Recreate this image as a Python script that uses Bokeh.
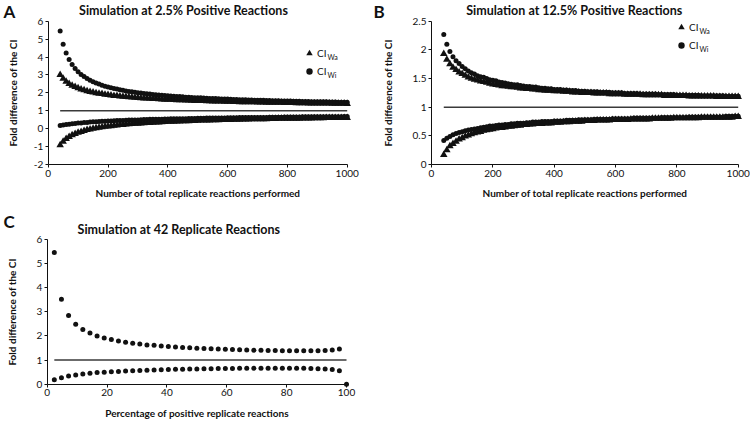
from bokeh.plotting import figure
from bokeh.models import (Range1d, FixedTicker, CustomJSTickFormatter, Label,
                          Legend, LegendItem)
from bokeh.layouts import column, row
from bokeh.embed import file_html
from bokeh.resources import INLINE

# ---------------- data ----------------
n_total = [40, 50, 60, 70, 80, 90, 100, 110, 120, 130, 140, 150, 160, 170, 180, 190, 200,
           210, 220, 230, 240, 250, 260, 270, 280, 290, 300,
           310, 320, 330, 340, 350, 360, 370, 380, 390, 400,
           410, 420, 430, 440, 450, 460, 470, 480, 490, 500,
           510, 520, 530, 540, 550, 560, 570, 580, 590, 600,
           610, 620, 630, 640, 650, 660, 670, 680, 690, 700,
           710, 720, 730, 740, 750, 760, 770, 780, 790, 800,
           810, 820, 830, 840, 850, 860, 870, 880, 890, 900,
           910, 920, 930, 940, 950, 960, 970, 980, 990, 1000]

# Panel A: 2.5 % positive reactions
a_wa_upper = [3.01, 2.79, 2.63, 2.51, 2.41, 2.33, 2.26, 2.20, 2.15, 2.10, 2.06, 2.03, 1.99, 1.96, 1.94, 1.91, 1.89,
              1.86, 1.84, 1.83, 1.81, 1.79, 1.78, 1.76, 1.75, 1.74, 1.72,
              1.71, 1.70, 1.69, 1.68, 1.67, 1.66, 1.65, 1.64, 1.63, 1.63,
              1.62, 1.61, 1.60, 1.60, 1.59, 1.58, 1.58, 1.57, 1.56, 1.56,
              1.55, 1.55, 1.54, 1.54, 1.53, 1.53, 1.52, 1.52, 1.51, 1.51,
              1.51, 1.50, 1.50, 1.49, 1.49, 1.49, 1.48, 1.48, 1.48, 1.47,
              1.47, 1.47, 1.46, 1.46, 1.46, 1.45, 1.45, 1.45, 1.44, 1.44,
              1.44, 1.44, 1.43, 1.43, 1.43, 1.43, 1.42, 1.42, 1.42, 1.42,
              1.41, 1.41, 1.41, 1.41, 1.40, 1.40, 1.40, 1.40, 1.40, 1.39]
a_wa_lower = [-0.91, -0.72, -0.57, -0.45, -0.36, -0.29, -0.22, -0.17, -0.12, -0.07, -0.03, 0.00, 0.03, 0.06, 0.09, 0.11, 0.13,
              0.15, 0.17, 0.19, 0.21, 0.22, 0.24, 0.25, 0.27, 0.28, 0.29,
              0.30, 0.31, 0.32, 0.33, 0.34, 0.35, 0.36, 0.37, 0.38, 0.39,
              0.39, 0.40, 0.41, 0.41, 0.42, 0.43, 0.43, 0.44, 0.44, 0.45,
              0.46, 0.46, 0.47, 0.47, 0.48, 0.48, 0.48, 0.49, 0.49, 0.50,
              0.50, 0.51, 0.51, 0.51, 0.52, 0.52, 0.52, 0.53, 0.53, 0.53,
              0.54, 0.54, 0.54, 0.55, 0.55, 0.55, 0.56, 0.56, 0.56, 0.56,
              0.57, 0.57, 0.57, 0.57, 0.58, 0.58, 0.58, 0.58, 0.59, 0.59,
              0.59, 0.59, 0.60, 0.60, 0.60, 0.60, 0.60, 0.61, 0.61, 0.61]
a_wi_upper = [5.45, 4.72, 4.22, 3.86, 3.58, 3.36, 3.18, 3.03, 2.91, 2.80, 2.70, 2.62, 2.55, 2.49, 2.43, 2.37, 2.33,
              2.28, 2.24, 2.21, 2.17, 2.14, 2.11, 2.08, 2.06, 2.03, 2.01,
              1.99, 1.97, 1.95, 1.93, 1.91, 1.89, 1.88, 1.86, 1.85, 1.84,
              1.82, 1.81, 1.80, 1.79, 1.78, 1.76, 1.75, 1.74, 1.73, 1.73,
              1.72, 1.71, 1.70, 1.69, 1.68, 1.68, 1.67, 1.66, 1.65, 1.65,
              1.64, 1.63, 1.63, 1.62, 1.62, 1.61, 1.60, 1.60, 1.59, 1.59,
              1.58, 1.58, 1.57, 1.57, 1.56, 1.56, 1.56, 1.55, 1.55, 1.54,
              1.54, 1.53, 1.53, 1.53, 1.52, 1.52, 1.52, 1.51, 1.51, 1.51,
              1.50, 1.50, 1.50, 1.49, 1.49, 1.49, 1.48, 1.48, 1.48, 1.47]
a_wi_lower = [0.18, 0.20, 0.23, 0.25, 0.27, 0.29, 0.31, 0.32, 0.34, 0.35, 0.37, 0.38, 0.39, 0.40, 0.41, 0.42, 0.43,
              0.43, 0.44, 0.45, 0.46, 0.46, 0.47, 0.48, 0.48, 0.49, 0.49,
              0.50, 0.51, 0.51, 0.52, 0.52, 0.53, 0.53, 0.53, 0.54, 0.54,
              0.55, 0.55, 0.55, 0.56, 0.56, 0.56, 0.57, 0.57, 0.57, 0.58,
              0.58, 0.58, 0.59, 0.59, 0.59, 0.60, 0.60, 0.60, 0.60, 0.61,
              0.61, 0.61, 0.61, 0.62, 0.62, 0.62, 0.62, 0.62, 0.63, 0.63,
              0.63, 0.63, 0.63, 0.64, 0.64, 0.64, 0.64, 0.64, 0.65, 0.65,
              0.65, 0.65, 0.65, 0.65, 0.66, 0.66, 0.66, 0.66, 0.66, 0.66,
              0.66, 0.67, 0.67, 0.67, 0.67, 0.67, 0.67, 0.67, 0.68, 0.68]

# Panel B: 12.5 % positive reactions
b_wa_upper = [1.93, 1.83, 1.75, 1.69, 1.65, 1.61, 1.58, 1.55, 1.52, 1.50, 1.48, 1.47, 1.45, 1.44, 1.43, 1.41, 1.40,
              1.39, 1.38, 1.37, 1.37, 1.36, 1.35, 1.35, 1.34, 1.33, 1.33,
              1.32, 1.32, 1.31, 1.31, 1.30, 1.30, 1.29, 1.29, 1.29, 1.28,
              1.28, 1.28, 1.27, 1.27, 1.27, 1.26, 1.26, 1.26, 1.25, 1.25,
              1.25, 1.25, 1.24, 1.24, 1.24, 1.24, 1.24, 1.23, 1.23, 1.23,
              1.23, 1.23, 1.22, 1.22, 1.22, 1.22, 1.22, 1.22, 1.21, 1.21,
              1.21, 1.21, 1.21, 1.21, 1.21, 1.20, 1.20, 1.20, 1.20, 1.20,
              1.20, 1.20, 1.20, 1.19, 1.19, 1.19, 1.19, 1.19, 1.19, 1.19,
              1.19, 1.19, 1.18, 1.18, 1.18, 1.18, 1.18, 1.18, 1.18, 1.18]
b_wa_lower = [0.17, 0.25, 0.32, 0.36, 0.40, 0.44, 0.46, 0.49, 0.51, 0.53, 0.55, 0.56, 0.57, 0.59, 0.60, 0.61, 0.62,
              0.63, 0.64, 0.64, 0.65, 0.66, 0.66, 0.67, 0.68, 0.68, 0.69,
              0.69, 0.70, 0.70, 0.71, 0.71, 0.71, 0.72, 0.72, 0.72, 0.73,
              0.73, 0.73, 0.74, 0.74, 0.74, 0.75, 0.75, 0.75, 0.75, 0.76,
              0.76, 0.76, 0.76, 0.77, 0.77, 0.77, 0.77, 0.77, 0.78, 0.78,
              0.78, 0.78, 0.78, 0.78, 0.79, 0.79, 0.79, 0.79, 0.79, 0.79,
              0.79, 0.80, 0.80, 0.80, 0.80, 0.80, 0.80, 0.80, 0.81, 0.81,
              0.81, 0.81, 0.81, 0.81, 0.81, 0.81, 0.81, 0.82, 0.82, 0.82,
              0.82, 0.82, 0.82, 0.82, 0.82, 0.82, 0.82, 0.82, 0.83, 0.83]
b_wi_upper = [2.27, 2.10, 1.97, 1.88, 1.81, 1.76, 1.71, 1.67, 1.63, 1.60, 1.58, 1.55, 1.53, 1.52, 1.50, 1.48, 1.47,
              1.46, 1.44, 1.43, 1.42, 1.41, 1.40, 1.39, 1.39, 1.38, 1.37,
              1.36, 1.36, 1.35, 1.35, 1.34, 1.33, 1.33, 1.32, 1.32, 1.31,
              1.31, 1.31, 1.30, 1.30, 1.29, 1.29, 1.29, 1.28, 1.28, 1.28,
              1.27, 1.27, 1.27, 1.27, 1.26, 1.26, 1.26, 1.26, 1.25, 1.25,
              1.25, 1.25, 1.24, 1.24, 1.24, 1.24, 1.24, 1.23, 1.23, 1.23,
              1.23, 1.23, 1.23, 1.22, 1.22, 1.22, 1.22, 1.22, 1.22, 1.21,
              1.21, 1.21, 1.21, 1.21, 1.21, 1.21, 1.21, 1.20, 1.20, 1.20,
              1.20, 1.20, 1.20, 1.20, 1.20, 1.19, 1.19, 1.19, 1.19, 1.19]
b_wi_lower = [0.42, 0.46, 0.49, 0.52, 0.54, 0.56, 0.57, 0.59, 0.60, 0.61, 0.62, 0.63, 0.64, 0.65, 0.66, 0.67, 0.67,
              0.68, 0.69, 0.69, 0.70, 0.70, 0.71, 0.71, 0.72, 0.72, 0.72,
              0.73, 0.73, 0.74, 0.74, 0.74, 0.75, 0.75, 0.75, 0.75, 0.76,
              0.76, 0.76, 0.76, 0.77, 0.77, 0.77, 0.77, 0.78, 0.78, 0.78,
              0.78, 0.78, 0.79, 0.79, 0.79, 0.79, 0.79, 0.79, 0.80, 0.80,
              0.80, 0.80, 0.80, 0.80, 0.80, 0.81, 0.81, 0.81, 0.81, 0.81,
              0.81, 0.81, 0.81, 0.81, 0.82, 0.82, 0.82, 0.82, 0.82, 0.82,
              0.82, 0.82, 0.82, 0.83, 0.83, 0.83, 0.83, 0.83, 0.83, 0.83,
              0.83, 0.83, 0.83, 0.83, 0.83, 0.84, 0.84, 0.84, 0.84, 0.84]

# Panel C: 42 replicate reactions
c_pct = [2.38, 4.76, 7.14, 9.52, 11.90, 14.29, 16.67, 19.05, 21.43, 23.81,
         26.19, 28.57, 30.95, 33.33, 35.71, 38.10, 40.48, 42.86, 45.24, 47.62,
         50.00, 52.38, 54.76, 57.14, 59.52, 61.90, 64.29, 66.67, 69.05, 71.43,
         73.81, 76.19, 78.57, 80.95, 83.33, 85.71, 88.10, 90.48, 92.86, 95.24, 97.62]
c_upper = [5.46, 3.52, 2.85, 2.49, 2.27, 2.12, 2.00, 1.92, 1.85, 1.79,
           1.74, 1.70, 1.67, 1.63, 1.61, 1.58, 1.56, 1.54, 1.52, 1.51,
           1.49, 1.48, 1.47, 1.46, 1.45, 1.44, 1.43, 1.42, 1.41, 1.41,
           1.40, 1.40, 1.39, 1.39, 1.39, 1.39, 1.39, 1.39, 1.40, 1.42, 1.46]
c_lower_pct = c_pct + [100.0]
c_lower = [0.18, 0.27, 0.34, 0.38, 0.42, 0.45, 0.48, 0.50, 0.52, 0.53,
           0.55, 0.56, 0.57, 0.58, 0.59, 0.60, 0.61, 0.62, 0.62, 0.63,
           0.63, 0.64, 0.64, 0.65, 0.65, 0.65, 0.66, 0.66, 0.66, 0.66,
           0.66, 0.66, 0.66, 0.66, 0.66, 0.66, 0.65, 0.64, 0.63, 0.61, 0.56, 0.00]

reference_fold = 1.0

ticks_n = [0, 200, 400, 600, 800, 1000]
ticks_pct = [0, 20, 40, 60, 80, 100]
ticks_a = [-2, -1, 0, 1, 2, 3, 4, 5, 6]
ticks_b = [0, 0.5, 1, 1.5, 2, 2.5]
ticks_c = [0, 1, 2, 3, 4, 5, 6]

FONT = "Lato"
INK = "#111111"
TRI = 7.5
DOT = 5


def make_fig(cw, ch, frame, xb, yb, xt, yt, xlabel, ylabel, ylab_standoff):
    """frame = (left, right, top, bottom) pixel edges of the plotting area inside the canvas."""
    fl, fr, ft, fb = frame
    sx = (xb[1] - xb[0]) / (fr - fl)
    sy = (yb[1] - yb[0]) / (fb - ft)
    xr = Range1d(xb[0] - fl * sx, xb[1] + (cw - fr) * sx)
    yr = Range1d(yb[0] - (ch - fb) * sy, yb[1] + ft * sy)
    p = figure(width=cw, height=ch, output_backend="svg", toolbar_location=None,
               x_range=xr, y_range=yr, min_border=0)
    p.title.visible = False
    p.outline_line_color = None
    p.grid.visible = False
    p.background_fill_color = "white"
    p.border_fill_color = "white"
    p.xaxis.ticker = FixedTicker(ticks=xt)
    p.yaxis.ticker = FixedTicker(ticks=yt)
    p.xaxis.fixed_location = yb[0]
    p.yaxis.fixed_location = xb[0]
    p.xaxis.bounds = xb
    p.yaxis.bounds = yb
    for ax in (p.xaxis[0], p.yaxis[0]):
        ax.formatter = CustomJSTickFormatter(code="return String(tick);")
        ax.axis_line_color = INK
        ax.axis_line_width = 1
        ax.major_tick_line_color = INK
        ax.major_tick_out = 3
        ax.major_tick_in = 0
        ax.minor_tick_line_color = None
        ax.major_label_text_font = FONT
        ax.major_label_text_font_size = "10px"
        ax.major_label_text_color = INK
        ax.major_label_standoff = 2
        ax.axis_label_text_font = FONT
        ax.axis_label_text_font_size = "10px"
        ax.axis_label_text_font_style = "bold"
        ax.axis_label_text_color = INK
    p.xaxis.axis_label = xlabel
    p.yaxis.axis_label = ylabel
    p.xaxis.axis_label_standoff = 7
    p.yaxis.axis_label_standoff = ylab_standoff
    return p


def add_text(p, x, y, text, size, bold=True, align="center"):
    p.add_layout(Label(x=x, y=y, x_units="screen", y_units="screen", text=text,
                       text_font=FONT, text_font_size=size,
                       text_font_style="bold" if bold else "normal",
                       text_align=align, text_baseline="middle", text_color=INK))


def add_legend(p, r_tri, r_circ, x, y, spacing):
    leg = Legend(items=[LegendItem(label="CI", renderers=[r_tri]),
                        LegendItem(label="CI", renderers=[r_circ])],
                 location=(x, y), orientation="vertical", padding=0, margin=0,
                 spacing=spacing, glyph_width=16, glyph_height=16, label_height=16,
                 label_standoff=0, label_text_font=FONT, label_text_font_size="10px",
                 label_text_color=INK, background_fill_alpha=0, border_line_color=None)
    p.add_layout(leg)
    box_h = 32 + spacing
    add_text(p, x + 26, y + box_h - 8 - 3, "Wa", "7px", bold=False, align="left")
    add_text(p, x + 26, y + 8 - 3, "Wi", "7px", bold=False, align="left")


def add_points(p, xs, ys, marker, size):
    return p.scatter(xs, ys, marker=marker, size=size, fill_color=INK, line_color=None)


xlab_n = "Number of total replicate reactions performed"
ylab = "Fold difference of the CI"

# ---------------- panel A ----------------
pa = make_fig(370, 208, (47.7, 346.7, 20.7, 164), (0, 1000), (-2, 6), ticks_n, ticks_a,
              xlab_n, ylab, 12)
ra1 = add_points(pa, n_total, a_wa_upper, "triangle", TRI)
add_points(pa, n_total, a_wa_lower, "triangle", TRI)
ra2 = add_points(pa, n_total, a_wi_upper, "circle", DOT)
add_points(pa, n_total, a_wi_lower, "circle", DOT)
pa.line([n_total[0], n_total[-1]], [reference_fold, reference_fold], line_color="#3a3a3a", line_width=1.5)
add_text(pa, 183, 198.5, "Simulation at 2.5% Positive Reactions", "12.5px")
add_text(pa, 9, 197, "A", "17px")
add_legend(pa, ra1, ra2, 301, 129, 2)

# ---------------- panel B ----------------
pb = make_fig(380, 208, (61, 367.7, 20.7, 164), (0, 1000), (0, 2.5), ticks_n, ticks_b,
              xlab_n, ylab, 16)
rb1 = add_points(pb, n_total, b_wa_upper, "triangle", TRI)
add_points(pb, n_total, b_wa_lower, "triangle", TRI)
rb2 = add_points(pb, n_total, b_wi_upper, "circle", DOT)
add_points(pb, n_total, b_wi_lower, "circle", DOT)
pb.line([n_total[0], n_total[-1]], [reference_fold, reference_fold], line_color="#3a3a3a", line_width=1.5)
add_text(pb, 203.7, 198.5, "Simulation at 12.5% Positive Reactions", "12.5px")
add_text(pb, 8.5, 197, "B", "17px")
add_legend(pb, rb1, rb2, 303, 155, 2)

# ---------------- panel C ----------------
pc = make_fig(370, 213, (46.7, 346, 31, 175.7), (0, 100), (0, 6), ticks_pct, ticks_c,
              "Percentage of positive replicate reactions", ylab, 16)
add_points(pc, c_pct, c_upper, "circle", DOT)
add_points(pc, c_lower_pct, c_lower, "circle", DOT)
pc.line([c_pct[0], c_lower_pct[-1]], [reference_fold, reference_fold], line_color="#3a3a3a", line_width=1.5)
add_text(pc, 178.3, 192, "Simulation at 42 Replicate Reactions", "12.5px")
add_text(pc, 8.5, 200, "C", "17px")

layout = column(row(pa, pb), pc)
open("out.html", "w").write(file_html(layout, INLINE))
